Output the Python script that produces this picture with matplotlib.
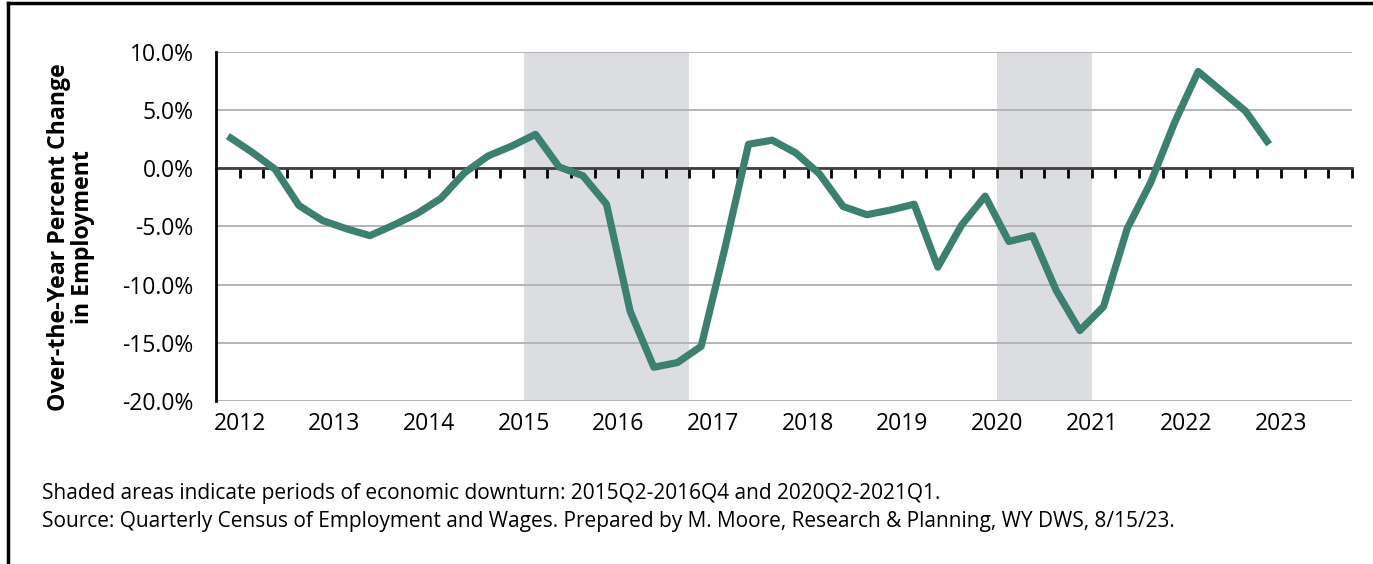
import matplotlib.pyplot as plt
from matplotlib.lines import Line2D

plt.rcParams['font.family'] = ['Open Sans', 'DejaVu Sans']

# quarterly categories 2012Q1 .. 2023Q4 (data runs through 2023Q1)
years = list(range(2012, 2024))
quarters = [f"{y}Q{q}" for y in years for q in range(1, 5)]

pct_change = [2.75, 1.4, -0.1, -3.2, -4.5, -5.2, -5.8, -4.9, -3.9, -2.6, -0.4, 1.05,
              1.9, 2.9, 0.1, -0.65, -3.1, -12.3, -17.1, -16.7, -15.3, -6.9, 2.05, 2.4,
              1.3, -0.5, -3.3, -4.0, -3.6, -3.1, -8.5, -4.9, -2.4, -6.3, -5.8, -10.5,
              -13.95, -11.9, -5.2, -1.2, 3.9, 8.3, 6.6, 4.9, 2.05]

downturns = [("2015Q2", "2016Q4"), ("2020Q2", "2021Q1")]

yticks = [10, 5, 0, -5, -10, -15, -20]

fig = plt.figure(figsize=(13.73, 5.64), dpi=100)
W, H = 1373, 564
ax = fig.add_axes([216 / W, 1 - 401 / H, (1352 - 216) / W, (401 - 51.7) / H])

for start, end in downturns:
    ax.axvspan(quarters.index(start) - 0.5, quarters.index(end) + 0.5,
               color='#dcdde0', lw=0, zorder=0)

ax.plot(range(len(pct_change)), pct_change, color='#3e8070', lw=5.2,
        solid_joinstyle='round', solid_capstyle='butt', zorder=4)

ax.set_xlim(-0.5, len(quarters) - 0.5)
ax.set_ylim(-20, 10)
ax.set_yticks(yticks)
ax.set_yticklabels([f"{v:.1f}%" for v in yticks], fontsize=16.5)
ax.tick_params(axis='y', length=0, pad=16)
ax.grid(axis='y', color='#b4b4b4', lw=1.4, zorder=1)

# quarter tick marks on the zero line
ax.spines['bottom'].set_position(('data', 0))
ax.spines['bottom'].set_color('#404040')
ax.spines['bottom'].set_linewidth(2)
ax.spines['bottom'].set_zorder(2)
ax.set_xticks([i + 0.5 for i in range(len(quarters))])
ax.set_xticklabels([])
ax.tick_params(axis='x', direction='out', length=7, width=2, color='black')

for s in ['top', 'right']:
    ax.spines[s].set_visible(False)
ax.spines['left'].set_linewidth(2)
ax.spines['left'].set_color('black')

# year labels along the bottom
sec = ax.secondary_xaxis(0)
sec.set_xticks([quarters.index(f"{y}Q1") + 0.5 for y in years])
sec.set_xticklabels([str(y) for y in years], fontsize=16.5)
sec.tick_params(length=0, pad=8)
sec.spines['bottom'].set_visible(False)

fig.text(71 / W, 1 - 237 / H, "Over-the-Year Percent Change\nin Employment",
         rotation=90, ha='center', va='center', fontsize=16.7, fontweight='bold',
         linespacing=1.0)

fig.text(42 / W, 1 - 494 / H,
         "Shaded areas indicate periods of economic downturn: 2015Q2-2016Q4 and 2020Q2-2021Q1.",
         fontsize=15, va='center')
fig.text(42 / W, 1 - 521 / H,
         "Source: Quarterly Census of Employment and Wages. Prepared by M. Moore, Research & Planning, WY DWS, 8/15/23.",
         fontsize=15, va='center')

# frame on left and top
fig.add_artist(Line2D([8 / W, 8 / W], [0, 1 - 3 / H], color='black', lw=2.5,
                      transform=fig.transFigure))
fig.add_artist(Line2D([8 / W, 1], [1 - 3 / H, 1 - 3 / H], color='black', lw=2.5,
                      transform=fig.transFigure))

fig.savefig('out.png', dpi=100)
